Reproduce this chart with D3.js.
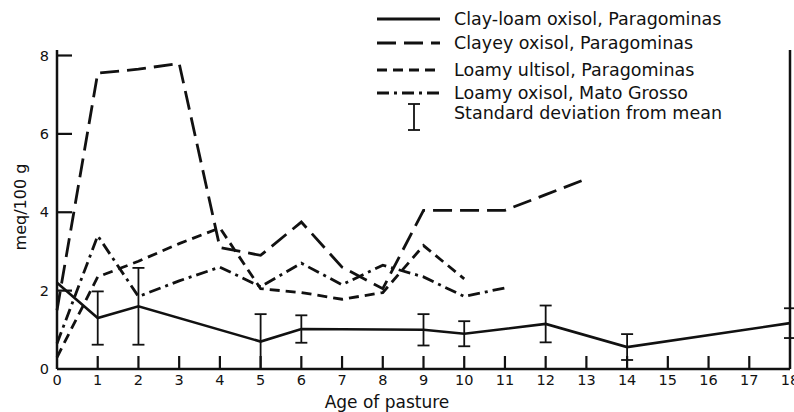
<!DOCTYPE html>
<html>
<head>
<meta charset="utf-8">
<script src="https://cdn.jsdelivr.net/npm/d3@7"></script>
<style>
  body { margin: 0; background: #fff; }
  text { font-family: "DejaVu Sans", sans-serif; fill: #111; }
</style>
</head>
<body>
<div id="chart"></div>
<script>
// exchangeable values, meq/100 g, by age of pasture (years)
const clayLoamAge = [0, 1, 2, 5, 6, 9, 10, 12, 14, 18];
const clayLoamVal = [2.2, 1.3, 1.6, 0.7, 1.02, 1.0, 0.9, 1.15, 0.56, 1.17];
const clayLoamSd  = [null, 0.68, 0.98, 0.7, 0.35, 0.4, 0.32, 0.47, 0.33, 0.38];

const clayeyAge = [0, 1, 2, 3, 4, 5, 6, 7, 8, 9, 10, 11, 12, 13];
const clayeyVal = [1.5, 7.55, 7.65, 7.8, 3.1, 2.9, 3.75, 2.6, 2.05, 4.05, 4.05, 4.05, 4.45, 4.85];

const ultisolAge = [0, 1, 2, 3, 4, 5, 6, 7, 8, 9, 10];
const ultisolVal = [0.3, 2.35, 2.75, 3.2, 3.6, 2.05, 1.95, 1.78, 1.95, 3.15, 2.3];

const matoAge = [0, 1, 2, 3, 4, 5, 6, 7, 8, 9, 10, 11];
const matoVal = [0.65, 3.4, 1.85, 2.25, 2.6, 2.1, 2.7, 2.15, 2.65, 2.35, 1.85, 2.07];

const xTicks = d3.range(0, 19);
const yTicks = [0, 2, 4, 6, 8];

const legendLabels = [
  "Clay-loam oxisol, Paragominas",
  "Clayey oxisol, Paragominas",
  "Loamy ultisol, Paragominas",
  "Loamy oxisol, Mato Grosso",
  "Standard deviation from mean"
];

const dashes = ["none", "19,8", "10,6", "12,5,3,5"];

const svg = d3.select("#chart").append("svg")
    .attr("width", 794)
    .attr("height", 412);

const x = d3.scaleLinear().domain([0, 18]).range([57, 790]);
const y = d3.scaleLinear().domain([0, 8]).range([369, 55.5]);

// frame
svg.append("line")
    .attr("x1", x(0)).attr("x2", x(18)).attr("y1", y(0)).attr("y2", y(0))
    .attr("stroke", "#111").attr("stroke-width", 2.5);
svg.append("line")
    .attr("x1", x(0)).attr("x2", x(0)).attr("y1", 50).attr("y2", y(0))
    .attr("stroke", "#111").attr("stroke-width", 2.5);
svg.append("line")
    .attr("x1", x(18)).attr("x2", x(18)).attr("y1", 50).attr("y2", y(0))
    .attr("stroke", "#111").attr("stroke-width", 2.5);

// ticks pointing inward
svg.selectAll("line.xtick")
    .data(xTicks.filter(d => d > 0 && d < 18))
    .enter().append("line")
    .attr("class", "xtick")
    .attr("x1", d => x(d)).attr("x2", d => x(d))
    .attr("y1", y(0)).attr("y2", y(0) - 13)
    .attr("stroke", "#111").attr("stroke-width", 2.2);
svg.selectAll("line.ytick")
    .data(yTicks.filter(d => d > 0))
    .enter().append("line")
    .attr("class", "ytick")
    .attr("x1", x(0)).attr("x2", x(0) + 15)
    .attr("y1", d => y(d)).attr("y2", d => y(d))
    .attr("stroke", "#111").attr("stroke-width", 2.2);

svg.selectAll("text.xlab")
    .data(xTicks)
    .enter().append("text")
    .attr("class", "xlab")
    .attr("x", d => x(d))
    .attr("y", 385)
    .attr("text-anchor", "middle")
    .attr("font-size", 14.5)
    .text(d => d);

svg.selectAll("text.ylab")
    .data(yTicks)
    .enter().append("text")
    .attr("class", "ylab")
    .attr("x", 49)
    .attr("y", d => y(d) + 5)
    .attr("text-anchor", "end")
    .attr("font-size", 14.5)
    .text(d => d);

svg.append("text")
    .attr("x", 387)
    .attr("y", 408)
    .attr("text-anchor", "middle")
    .attr("font-size", 17)
    .text("Age of pasture");

svg.append("text")
    .attr("transform", "translate(26,207) rotate(-90)")
    .attr("text-anchor", "middle")
    .attr("font-size", 16)
    .text("meq/100 g");

// series
const line = d3.line().x(d => x(d[0])).y(d => y(d[1]));
const series = [
  d3.zip(clayLoamAge, clayLoamVal),
  d3.zip(clayeyAge, clayeyVal),
  d3.zip(ultisolAge, ultisolVal),
  d3.zip(matoAge, matoVal)
];

svg.selectAll("path.series")
    .data(series)
    .enter().append("path")
    .attr("class", "series")
    .attr("d", line)
    .attr("fill", "none")
    .attr("stroke", "#111")
    .attr("stroke-width", (d, i) => i === 0 ? 2.6 : 2.8)
    .attr("stroke-dasharray", (d, i) => dashes[i]);

// standard deviation bars
const sdData = clayLoamAge.map((a, i) => ({ a: a, v: clayLoamVal[i], sd: clayLoamSd[i] }))
    .filter(d => d.sd !== null);

const bars = svg.selectAll("g.sd")
    .data(sdData)
    .enter().append("g")
    .attr("class", "sd")
    .attr("stroke", "#111")
    .attr("stroke-width", 1.8);
bars.append("line")
    .attr("x1", d => x(d.a)).attr("x2", d => x(d.a))
    .attr("y1", d => y(d.v + d.sd)).attr("y2", d => y(Math.max(0, d.v - d.sd)));
bars.append("line")
    .attr("x1", d => x(d.a) - 6).attr("x2", d => x(d.a) + 6)
    .attr("y1", d => y(d.v + d.sd)).attr("y2", d => y(d.v + d.sd));
bars.filter(d => d.v - d.sd > 0).append("line")
    .attr("x1", d => x(d.a) - 6).attr("x2", d => x(d.a) + 6)
    .attr("y1", d => y(d.v - d.sd)).attr("y2", d => y(d.v - d.sd));

// legend
const legendY = [19, 43, 70, 93, 113];
const legend = svg.append("g");
legend.selectAll("line.key")
    .data(dashes)
    .enter().append("line")
    .attr("class", "key")
    .attr("x1", 377).attr("x2", 440)
    .attr("y1", (d, i) => legendY[i]).attr("y2", (d, i) => legendY[i])
    .attr("stroke", "#111")
    .attr("stroke-width", 2.8)
    .attr("stroke-dasharray", d => d);
legend.append("line")
    .attr("x1", 414).attr("x2", 414).attr("y1", 104).attr("y2", 130)
    .attr("stroke", "#111").attr("stroke-width", 1.8);
legend.append("line")
    .attr("x1", 408).attr("x2", 420).attr("y1", 104).attr("y2", 104)
    .attr("stroke", "#111").attr("stroke-width", 1.8);
legend.append("line")
    .attr("x1", 408).attr("x2", 420).attr("y1", 130).attr("y2", 130)
    .attr("stroke", "#111").attr("stroke-width", 1.8);
legend.selectAll("text.leg")
    .data(legendLabels)
    .enter().append("text")
    .attr("class", "leg")
    .attr("x", 454)
    .attr("y", (d, i) => legendY[i] + 6)
    .attr("font-size", 17.5)
    .text(d => d);
</script>
</body>
</html>
